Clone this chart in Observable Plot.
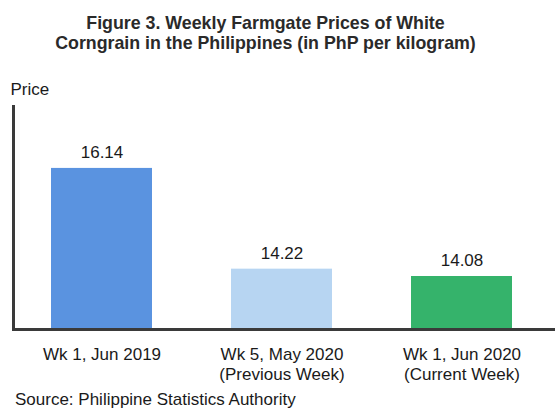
<!DOCTYPE html>
<html>
<head>
<meta charset="utf-8">
<script src="https://cdn.jsdelivr.net/npm/d3@7"></script>
<script src="https://cdn.jsdelivr.net/npm/@observablehq/plot@0.6"></script>
<style>
  html, body { margin: 0; padding: 0; background: #fff; }
  body { width: 555px; height: 409px; position: relative; overflow: hidden;
         font-family: "Liberation Sans", Arial, sans-serif; color: #1a1a1a; }
  #title { position: absolute; left: -24px; top: 13px; width: 579px; text-align: center;
           font-weight: bold; font-size: 17.8px; line-height: 20px; color: #2a2a2a; }
  #chart { position: absolute; left: 0; top: 60px; }
  #source { position: absolute; left: 15px; top: 390px; font-size: 17px; line-height: 20px; }
</style>
</head>
<body>
<div id="title">Figure 3. Weekly Farmgate Prices of White<br>Corngrain in the Philippines (in PhP per kilogram)</div>
<div id="chart"></div>
<div id="source">Source: Philippine Statistics Authority</div>
<script>
const categories = ["Wk 1, Jun 2019", "Wk 5, May 2020\n(Previous Week)", "Wk 1, Jun 2020\n(Current Week)"];
const prices = [16.14, 14.22, 14.08];
const yAxisLabel = "Price";
const yMin = 13.07;
const yMax = 17.32;

const data = categories.map((c, i) => ({category: c, price: prices[i]}));

const chart = Plot.plot({
  width: 555,
  height: 325,
  marginLeft: 13,
  marginRight: 0,
  marginTop: 46,
  marginBottom: 56,
  style: {fontFamily: "'Liberation Sans', Arial, sans-serif", fontSize: "17px", color: "#1a1a1a", background: "transparent"},
  x: {domain: categories, paddingInner: 0.44, paddingOuter: 0.2215, align: 0.4625, label: null},
  y: {domain: [yMin, yMax], axis: null},
  color: {domain: categories, range: ["#5a93e0", "#b7d5f2", "#35b36b"]},
  marks: [
    Plot.barY(data, {x: "category", y1: yMin, y2: "price", fill: "category"}),
    Plot.text(data, {x: "category", y: "price", text: d => d.price.toFixed(2), dy: -16, fontSize: 17, fill: "#1a1a1a"}),
    Plot.axisX({tickSize: 0, tickPadding: 16, fontSize: 17, lineHeight: 1.18, label: null, fill: "#1a1a1a"}),
    Plot.ruleY([yMin], {stroke: "#3a3a3a", strokeWidth: 3}),
    Plot.frame({anchor: "left", stroke: "#3a3a3a", strokeWidth: 3}),
    Plot.text([yAxisLabel], {frameAnchor: "top-left", textAnchor: "start", lineAnchor: "middle", dx: -3, dy: -17, fontSize: 17, fill: "#1a1a1a"})
  ]
});
document.getElementById("chart").appendChild(chart);
</script>
</body>
</html>
